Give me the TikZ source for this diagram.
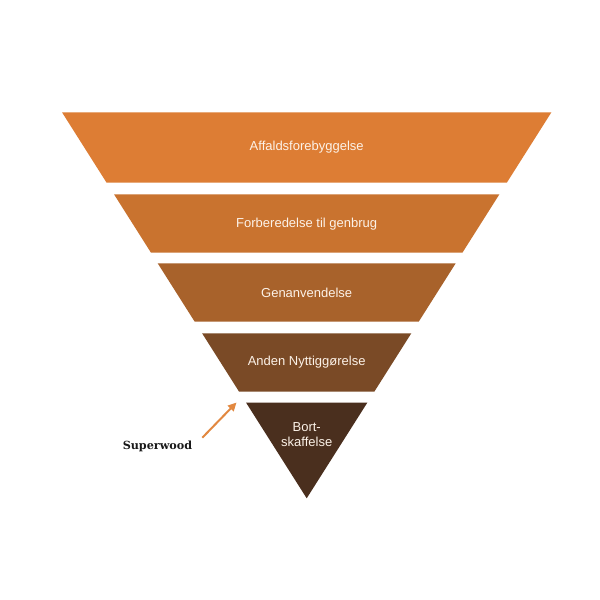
\documentclass[tikz,border=0pt]{standalone}
\usepackage{fontspec}
\setmainfont{Liberation Sans}
\newfontfamily\slabfont{DejaVu Serif}
\usetikzlibrary{arrows.meta}
\definecolor{cA}{RGB}{221,125,52}
\definecolor{cB}{RGB}{201,115,47}
\definecolor{cC}{RGB}{168,98,43}
\definecolor{cD}{RGB}{122,74,38}
\definecolor{cE}{RGB}{74,47,30}
\definecolor{txt}{RGB}{252,242,232}
\definecolor{arr}{RGB}{226,136,64}
\tikzset{
  lbl/.style={text=txt, font=\fontsize{13}{15.6}\selectfont, align=center, inner sep=0pt},
  sw/.style={font=\slabfont\bfseries\fontsize{11.2}{13}\selectfont, text=black!90, inner sep=0pt},
  swarrow/.style={draw=arr, line width=2pt, -{Triangle[length=8.5pt,width=8pt]}}
}
\begin{document}
\begin{tikzpicture}[x=1pt,y=-1pt]
\useasboundingbox (0,0) rectangle (600,600);
\fill[white] (0,0) rectangle (600,600);
% bands
\fill[cA] (62.0,112.3) -- (551.4,112.3) -- (506.8,182.7) -- (106.6,182.7) -- cycle;
\fill[cB] (114.0,194.3) -- (499.4,194.3) -- (462.4,252.7) -- (151.0,252.7) -- cycle;
\fill[cC] (157.7,263.3) -- (455.7,263.3) -- (418.7,321.7) -- (194.7,321.7) -- cycle;
\fill[cD] (202.1,333.3) -- (411.3,333.3) -- (374.3,391.7) -- (239.1,391.7) -- cycle;
\fill[cE] (246.1,402.7) -- (367.3,402.7) -- (306.7,498.3) -- cycle;
% labels
\node[lbl] (l1) at (306.7,146.7) {Affaldsforebyggelse};
\node[lbl] (l2) at (306.7,224.0) {Forberedelse til genbrug};
\node[lbl] (l3) at (306.7,293.0) {Genanvendelse};
\node[lbl] (l4) at (306.7,362.0) {Anden Nyttiggørelse};
\node[lbl] (l5) at (306.7,434.5) {Bort-\\skaffelse};
% Superwood
\node[sw] (sw) at (157.5,446.5) {Superwood};
\coordinate (as) at (202.3,437.7);
\coordinate (ae) at (236.5,402.5);
\draw[swarrow] (as) -- (ae);
\end{tikzpicture}
\end{document}
